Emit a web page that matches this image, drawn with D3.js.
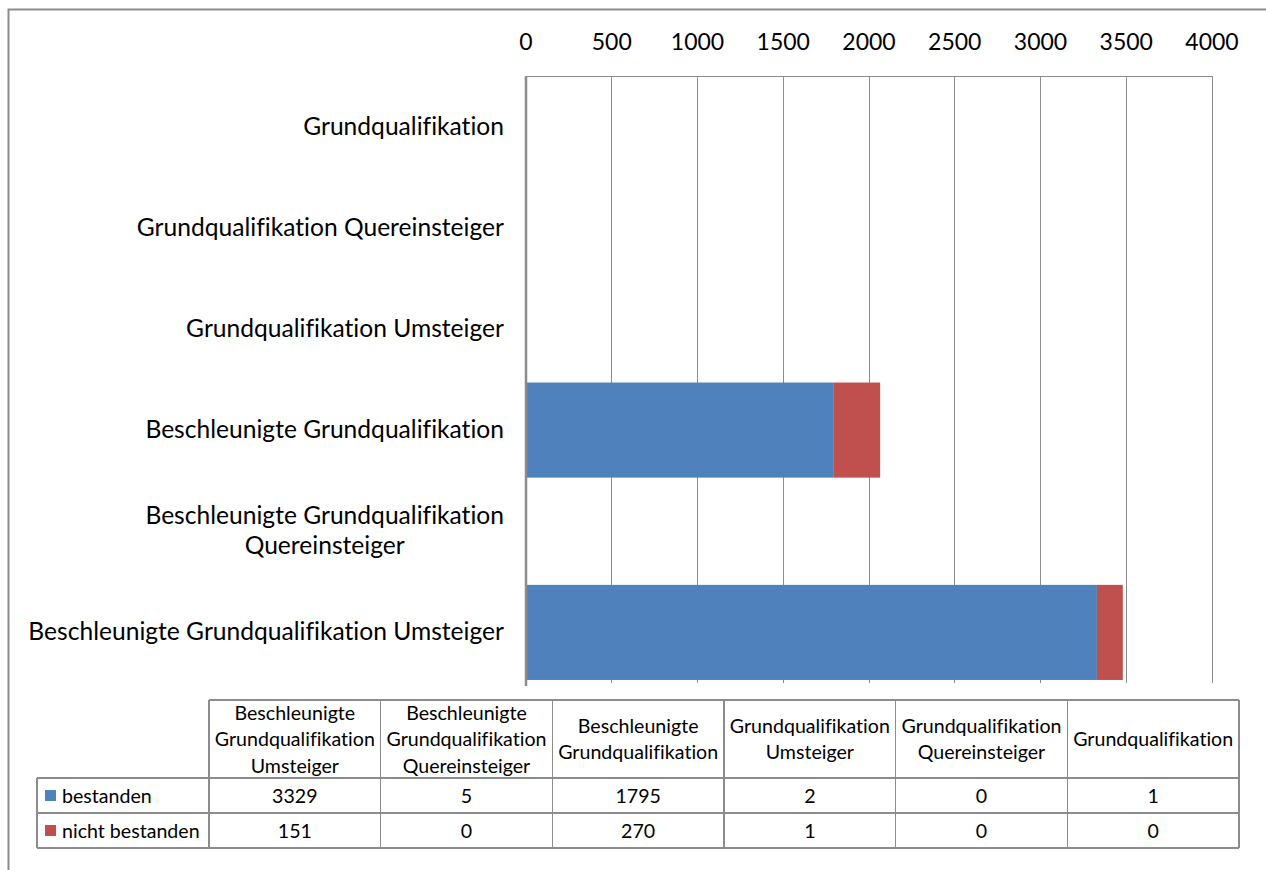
<html lang="de">
<head>
<meta charset="utf-8">
<title>Grundqualifikation Prüfungen</title>
<style>
    body { margin: 0; padding: 0; background: white; }
    svg { display: block; background: white; font-family: Lato, "Open Sans", sans-serif; font-variant-ligatures: none; }
    .grid line { stroke: #8c8c8c; stroke-width: 1px; shape-rendering: crispEdges; }
    .tick-label { font-size: 23px; fill: #000; }
    .cat-label { font-size: 24.6px; fill: #000; }
    .tbl { font-size: 19.6px; fill: #000; }
    .tbl-line { stroke: #8c8c8c; stroke-width: 1.5px; shape-rendering: crispEdges; }
</style>
</head>
<body>
<div id="chart"></div>

<script src="https://d3js.org/d3.v7.min.js"></script>
<script>

// categories, top to bottom in the chart
var categories = [
    "Grundqualifikation",
    "Grundqualifikation Quereinsteiger",
    "Grundqualifikation Umsteiger",
    "Beschleunigte Grundqualifikation",
    "Beschleunigte Grundqualifikation Quereinsteiger",
    "Beschleunigte Grundqualifikation Umsteiger"
];
// axis labels as they are wrapped in the picture
var categoryLabels = [
    "Grundqualifikation",
    "Grundqualifikation Quereinsteiger",
    "Grundqualifikation Umsteiger",
    "Beschleunigte Grundqualifikation",
    "Beschleunigte Grundqualifikation\nQuereinsteiger",
    "Beschleunigte Grundqualifikation Umsteiger"
];
// table header labels (table runs bottom to top)
var tableHeaders = [
    "Beschleunigte\nGrundqualifikation\nUmsteiger",
    "Beschleunigte\nGrundqualifikation\nQuereinsteiger",
    "Beschleunigte\nGrundqualifikation",
    "Grundqualifikation\nUmsteiger",
    "Grundqualifikation\nQuereinsteiger",
    "Grundqualifikation"
];
var seriesNames = ["bestanden", "nicht bestanden"];
var seriesColors = ["#4f81bd", "#c0504d"];
var bestanden = [1, 0, 2, 1795, 5, 3329];
var nichtBestanden = [0, 0, 1, 270, 0, 151];
var xTicks = [0, 500, 1000, 1500, 2000, 2500, 3000, 3500, 4000];

var width = 1266, height = 870;

var svg = d3.select("#chart").append("svg")
    .attr("width", width)
    .attr("height", height);

// outer frame
svg.append("path")
    .attr("d", "M8.5," + height + "V9.5H" + width)
    .attr("fill", "none")
    .attr("stroke", "#8c8c8c")
    .attr("stroke-width", 2);

var x = d3.scaleLinear().domain([0, 4000]).range([526, 1212]);
var y = d3.scaleBand().domain(categories).range([76, 683]).paddingInner(0.06).paddingOuter(0.03);

// gridlines
var grid = svg.append("g").attr("class", "grid");
grid.selectAll("line.v")
    .data(xTicks)
    .enter().append("line")
    .attr("class", "v")
    .attr("x1", function(d){ return x(d); })
    .attr("x2", function(d){ return x(d); })
    .attr("y1", 76)
    .attr("y2", 683);
grid.append("line")
    .attr("x1", x(0)).attr("x2", x(4000))
    .attr("y1", 76).attr("y2", 76);

svg.append("g").selectAll("text")
    .data(xTicks)
    .enter().append("text")
    .attr("class", "tick-label")
    .attr("x", function(d){ return x(d); })
    .attr("y", 50)
    .attr("text-anchor", "middle")
    .text(function(d){ return d; });

// stacked bars
var rows = categories.map(function(c, i){
    return { cat: c, "bestanden": bestanden[i], "nicht bestanden": nichtBestanden[i] };
});
var stacked = d3.stack().keys(seriesNames)(rows);

svg.append("g").selectAll("g")
    .data(stacked)
    .enter().append("g")
    .attr("fill", function(d, i){ return seriesColors[i]; })
    .selectAll("rect")
    .data(function(d){ return d; })
    .enter().append("rect")
    .attr("x", function(d){ return x(d[0]); })
    .attr("width", function(d){ return Math.max(0, x(d[1]) - x(d[0])); })
    .attr("y", function(d){ return y(d.data.cat); })
    .attr("height", y.bandwidth());

// value axis line on top of the bars
svg.append("line")
    .attr("x1", x(0)).attr("x2", x(0))
    .attr("y1", 76).attr("y2", 686)
    .attr("stroke", "#8c8c8c")
    .attr("stroke-width", 2.5);

// category labels
var catG = svg.append("g").selectAll("text")
    .data(categoryLabels)
    .enter().append("text")
    .attr("class", "cat-label")
    .attr("y", function(d, i){ return y(categories[i]) + y.bandwidth() / 2; });

catG.each(function(d){
    var t = d3.select(this);
    var lines = d.split("\n");
    var lh = 30;
    var y0 = +t.attr("y") - (lines.length - 1) * lh / 2 + 8;
    t.selectAll("tspan").data(lines).enter().append("tspan")
        .attr("y", function(l, j){ return y0 + j * lh; })
        .text(function(l){ return l; });
    // right-align the block, centre the lines inside it
    var widths = [];
    t.selectAll("tspan").each(function(){ widths.push(this.getComputedTextLength()); });
    var blockW = d3.max(widths);
    var center = 504 - blockW / 2;
    t.selectAll("tspan")
        .attr("x", center)
        .attr("text-anchor", "middle");
});

// data table
var col = d3.scaleBand().domain(d3.range(tableHeaders.length)).range([209, 1239]);
var tblTop = 700, headBottom = 778, rowH = 35;
var tbl = svg.append("g");

// header
tbl.selectAll("text.head")
    .data(tableHeaders)
    .enter().append("text")
    .attr("class", "tbl head")
    .attr("text-anchor", "middle")
    .each(function(d, i){
        var lines = d.split("\n");
        var lh = 26.5;
        var cy = (tblTop + headBottom) / 2 - (lines.length - 1) * lh / 2 + 7;
        d3.select(this).selectAll("tspan").data(lines).enter().append("tspan")
            .attr("x", col(i) + col.bandwidth() / 2)
            .attr("y", function(l, j){ return cy + j * lh; })
            .text(function(l){ return l; });
    });

var tableValues = [bestanden.slice().reverse(), nichtBestanden.slice().reverse()];

tableValues.forEach(function(vals, r){
    var cy = headBottom + r * rowH + rowH / 2 + 7;
    tbl.selectAll("text.r" + r)
        .data(vals)
        .enter().append("text")
        .attr("class", "tbl r" + r)
        .attr("text-anchor", "middle")
        .attr("x", function(d, i){ return col(i) + col.bandwidth() / 2; })
        .attr("y", cy)
        .text(function(d){ return d; });
    tbl.append("rect")
        .attr("x", 45)
        .attr("y", headBottom + r * rowH + 12)
        .attr("width", 11)
        .attr("height", 11)
        .attr("fill", seriesColors[r]);
    tbl.append("text")
        .attr("class", "tbl")
        .attr("x", 62)
        .attr("y", cy)
        .text(seriesNames[r]);
});

// table grid lines
var bottom = headBottom + 2 * rowH;
var hl = [[209, tblTop], [37, headBottom], [37, headBottom + rowH], [37, bottom]];
tbl.selectAll("line.h")
    .data(hl)
    .enter().append("line")
    .attr("class", "tbl-line")
    .attr("x1", function(d){ return d[0]; })
    .attr("x2", 1239)
    .attr("y1", function(d){ return d[1]; })
    .attr("y2", function(d){ return d[1]; });
tbl.selectAll("line.v")
    .data(d3.range(tableHeaders.length + 1))
    .enter().append("line")
    .attr("class", "tbl-line")
    .attr("x1", function(d){ return d < tableHeaders.length ? col(d) : 1239; })
    .attr("x2", function(d){ return d < tableHeaders.length ? col(d) : 1239; })
    .attr("y1", tblTop)
    .attr("y2", bottom);
tbl.append("line")
    .attr("class", "tbl-line")
    .attr("x1", 37).attr("x2", 37)
    .attr("y1", headBottom).attr("y2", bottom);

</script>
</body>
</html>
